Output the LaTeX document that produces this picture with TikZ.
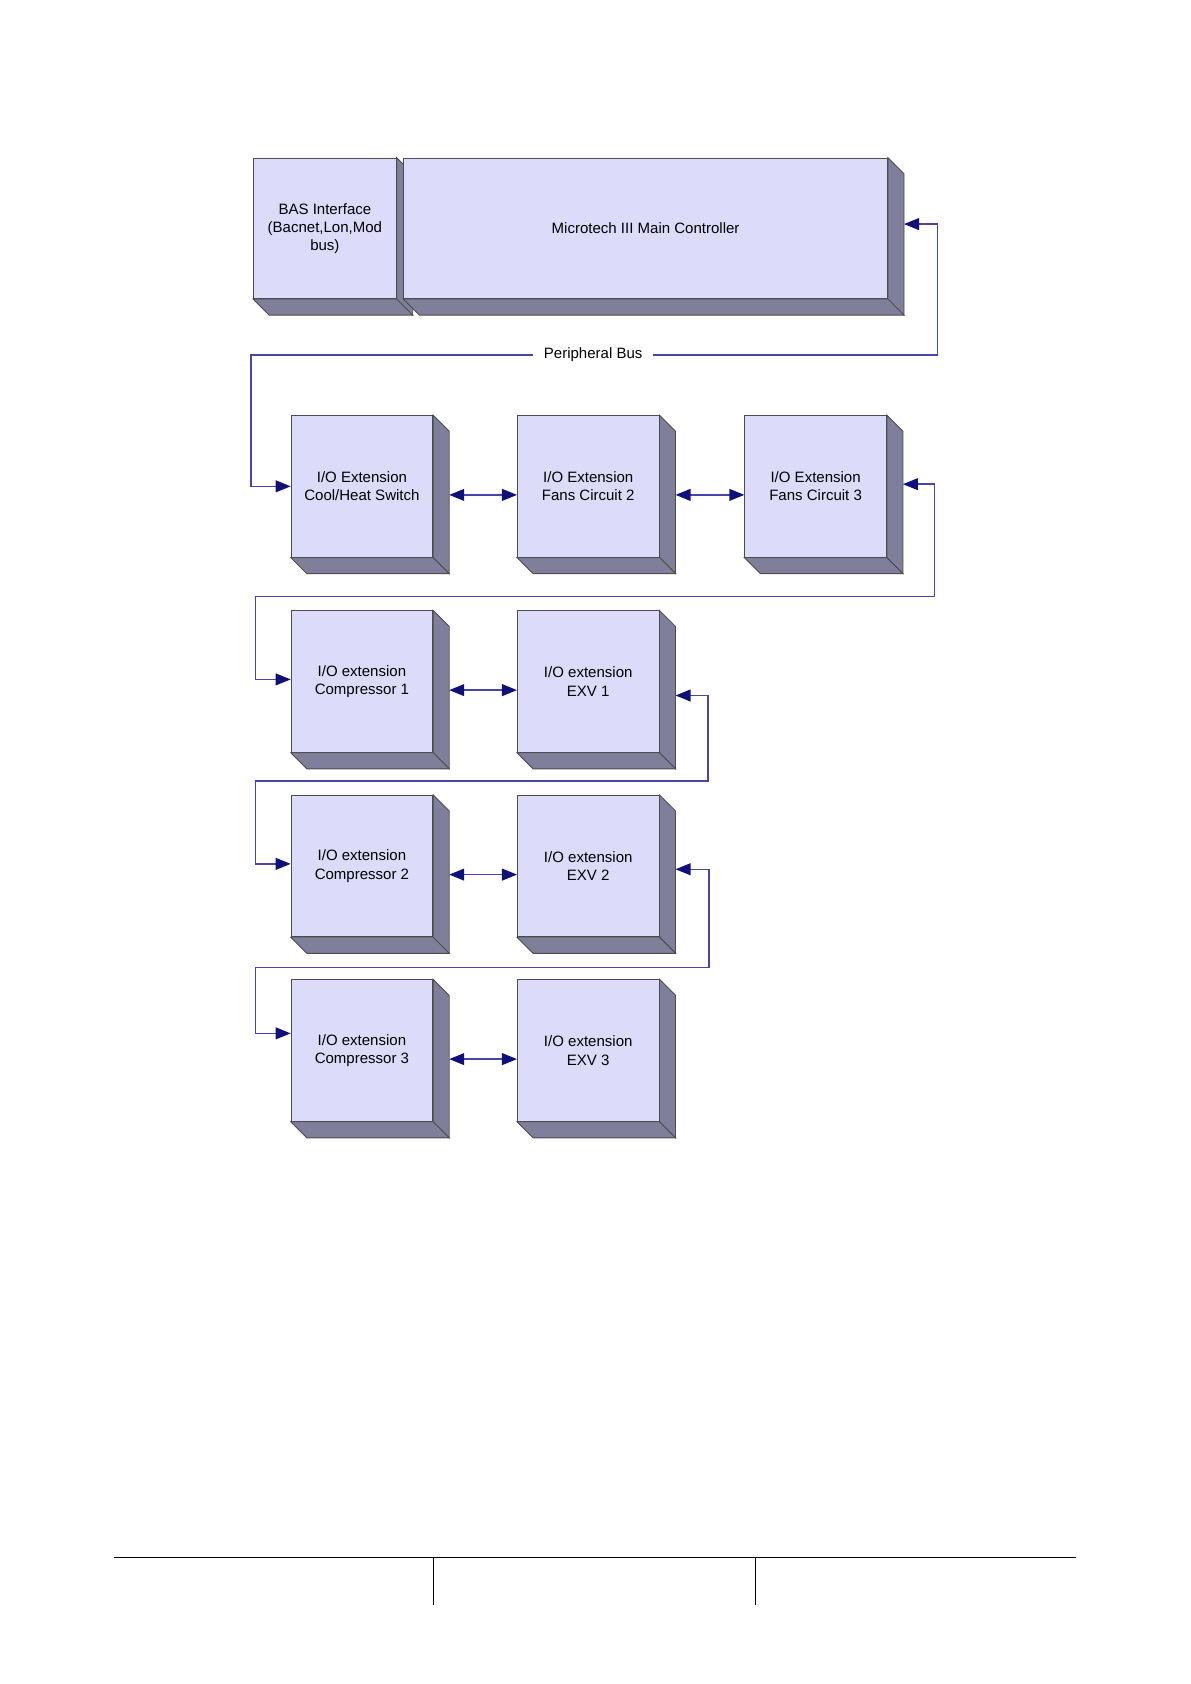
\documentclass[tikz,border=0pt]{standalone}
\usepackage{fontspec}
\setmainfont{Liberation Sans}
\usetikzlibrary{positioning,arrows.meta,calc}
\definecolor{boxfill}{HTML}{DCDCFA}
\definecolor{boxside}{HTML}{7F7F9C}
\definecolor{busline}{HTML}{4646A8}
\definecolor{arrowtip}{HTML}{10107A}
\tikzset{
  unitbox/.style={draw=black!70, fill=boxfill, line width=0.8pt, inner sep=2pt,
    align=center, font=\fontsize{14}{17}\selectfont},
  busline/.style={draw=busline, line width=1.4pt},
  tipend/.style={busline, -{Triangle[length=14pt,width=11pt,color=arrowtip]}},
  tipboth/.style={busline, {Triangle[length=14pt,width=11pt,color=arrowtip]}-{Triangle[length=14pt,width=11pt,color=arrowtip]}},
}
% 3D box: name, x, y (top left), width, height, text
\newcommand{\iobox}[6]{%
  \node[unitbox, anchor=north west, minimum width=#4pt, minimum height=#5pt] (#1) at (#2,#3) {#6};
  \draw[draw=black!70, fill=boxside, line width=0.8pt] (#1.north east) -- ++(15pt,-15pt) -- ($(#1.south east)+(15pt,-15pt)$) -- (#1.south east) -- cycle;
  \draw[draw=black!70, fill=boxside, line width=0.8pt] (#1.south west) -- ++(15pt,-15pt) -- ($(#1.south east)+(15pt,-15pt)$) -- (#1.south east) -- cycle;
  \coordinate (#1s) at ($(#1.east)+(15pt,-8pt)$);
}
\begin{document}
\begin{tikzpicture}[x=1pt,y=-1pt]
  \useasboundingbox (0,0) rectangle (1110,1570);
  % === controllers ===
  \iobox{bas}{236}{147}{133}{131}{BAS Interface\\(Bacnet,Lon,Mod\\bus)}
  \iobox{main}{376}{147}{451}{131}{Microtech III Main Controller}
  % === I/O extensions ===
  \iobox{ioa}{271}{387}{132}{132}{I/O Extension\\Cool/Heat Switch}
  \iobox{iob}{482}{387}{132}{132}{I/O Extension\\Fans Circuit 2}
  \iobox{ioc}{694}{387}{132}{132}{I/O Extension\\Fans Circuit 3}
  \iobox{cpa}{271}{569}{132}{132}{I/O extension\\Compressor 1}
  \iobox{exa}{482}{569}{132}{132}{I/O extension\\EXV 1}
  \iobox{cpb}{271}{741}{132}{132}{I/O extension\\Compressor 2}
  \iobox{exb}{482}{741}{132}{132}{I/O extension\\EXV 2}
  \iobox{cpc}{271}{913}{132}{132}{I/O extension\\Compressor 3}
  \iobox{exc}{482}{913}{132}{132}{I/O extension\\EXV 3}
  % Peripheral bus
  \node[font=\fontsize{14}{17}\selectfont, inner sep=10pt] (bus) at (553,331) {Peripheral Bus};
  \coordinate (busr) at (874,331);
  \coordinate (busl) at (234,331);
  \draw[tipend] (bus.east) -- (busr) |- ($(main.east)+(15pt,4pt)$);
  \draw[tipend] (bus.west) -- (busl) |- (ioa.west);
  % row links
  \draw[tipboth] (ioas) -- (iob.west |- ioas);
  \draw[tipboth] (iobs) -- (ioc.west |- iobs);
  \draw[tipboth] (cpas) -- (exa.west |- cpas);
  \draw[tipboth] (cpbs) -- (exb.west |- cpbs);
  \draw[tipboth] (cpcs) -- (exc.west |- cpcs);
  % returns to next row
  \draw[tipend] (238,556) -- (871,556) |- ($(ioc.east)+(15pt,2pt)$);
  \draw[tipend] (238,556) |- ($(cpa.west)+(0,2pt)$);
  \draw[tipend] (238,728) -- (660,728) |- ($(exa.east)+(15pt,-13pt)$);
  \draw[tipend] (238,728) |- ($(cpb.west)+(0,2pt)$);
  \draw[tipend] (238,902) -- (661,902) |- ($(exb.east)+(15pt,-3pt)$);
  \draw[tipend] (238,902) |- ($(cpc.west)+(0,16pt)$);
  % footer
  \draw[line width=0.8pt] (106,1452) -- (1003,1452);
  \draw[line width=0.8pt] (404,1452) -- (404,1496);
  \draw[line width=0.8pt] (704,1452) -- (704,1496);
\end{tikzpicture}
\end{document}
